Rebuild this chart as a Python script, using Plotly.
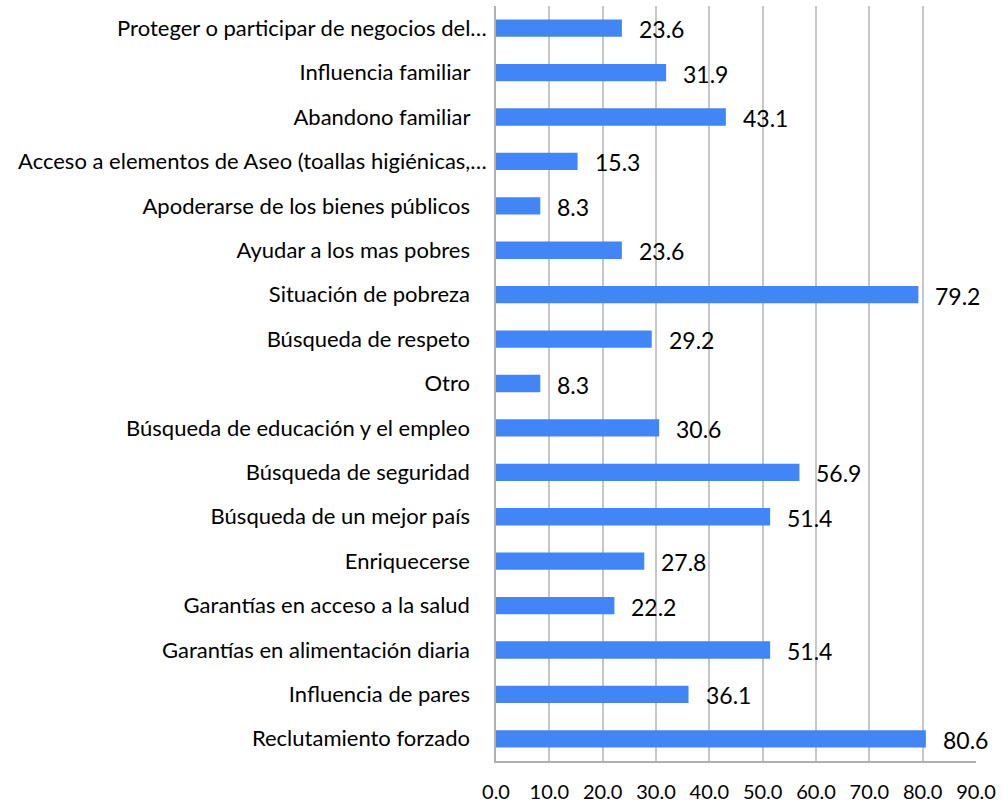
import plotly.graph_objects as go

categories = [
    "Proteger o participar de negocios del…",
    "Influencia familiar",
    "Abandono familiar",
    "Acceso a elementos de Aseo (toallas higiénicas,…",
    "Apoderarse de los bienes públicos",
    "Ayudar a los mas pobres",
    "Situación de pobreza",
    "Búsqueda de respeto",
    "Otro",
    "Búsqueda de educación y el empleo",
    "Búsqueda de seguridad",
    "Búsqueda de un mejor país",
    "Enriquecerse",
    "Garantías en acceso a la salud",
    "Garantías en alimentación diaria",
    "Influencia de pares",
    "Reclutamiento forzado",
]
values = [23.6, 31.9, 43.1, 15.3, 8.3, 23.6, 79.2, 29.2, 8.3, 30.6, 56.9, 51.4, 27.8, 22.2, 51.4, 36.1, 80.6]
tick_vals = [0, 10, 20, 30, 40, 50, 60, 70, 80, 90]
tick_text = ["0.0", "10.0", "20.0", "30.0", "40.0", "50.0", "60.0", "70.0", "80.0", "90.0"]

# Excel keeps trailing spaces on untruncated labels
display_labels = [c if c.endswith("…") else c + "\u00a0\u00a0\u00a0" for c in categories]

FONT = "Lato"

fig = go.Figure(
    go.Bar(
        x=values,
        y=display_labels,
        orientation="h",
        marker=dict(color="#4285F4", line=dict(width=0)),
        width=0.39,
        hoverinfo="x+y",
    )
)

for lab, v in zip(display_labels, values):
    fig.add_annotation(
        x=v, y=lab, text=f"{v:.1f}", showarrow=False,
        xanchor="left", xshift=15, yshift=-1,
        font=dict(family=FONT, size=23, color="#000000"),
    )

fig.update_layout(
    width=1002, height=809,
    margin=dict(l=496, r=26, t=6, b=46),
    paper_bgcolor="white", plot_bgcolor="white",
    showlegend=False,
    font=dict(family=FONT, color="#000000"),
)
fig.update_xaxes(
    range=[0, 90], tickvals=tick_vals, ticktext=tick_text,
    showgrid=True, gridcolor="#C6C6C6", gridwidth=1.5,
    zeroline=False, showline=True, linecolor="#B0B0B0", linewidth=1.5,
    mirror=False, ticks="", tickfont=dict(family=FONT, size=20, color="#000000"),
    ticklabelstandoff=12,
)
fig.update_yaxes(
    categoryorder="array", categoryarray=display_labels, autorange="reversed",
    showgrid=False, showline=True, linecolor="#B0B0B0", linewidth=1.5,
    ticks="", tickfont=dict(family=FONT, size=22, color="#000000"),
    ticklabelstandoff=3,
)

fig.write_html(
    "out.html",
    config={"displayModeBar": False},
    post_script="document.body.style.margin='0';",
)
